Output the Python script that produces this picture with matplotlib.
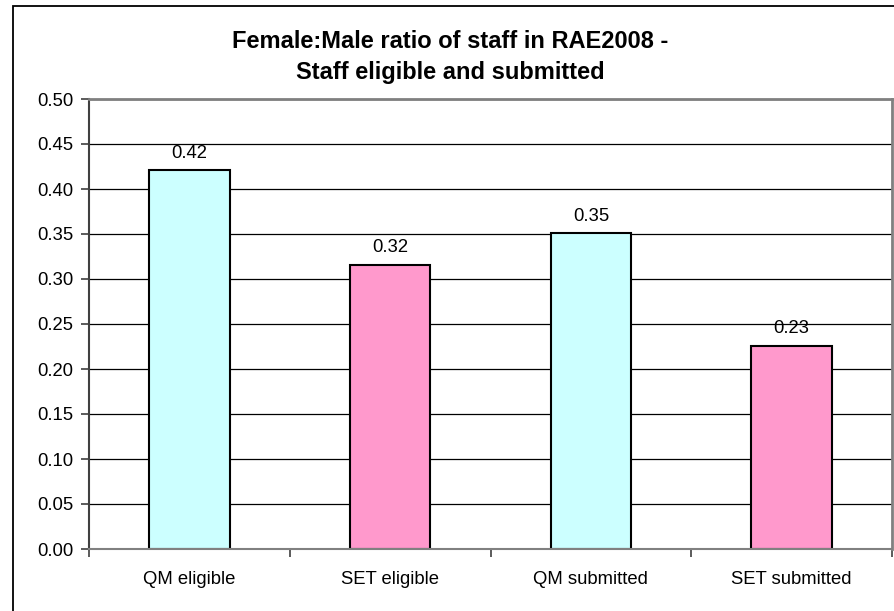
import matplotlib.pyplot as plt
import matplotlib.patches as mpatches
import numpy as np

plt.rcParams['font.family'] = ['Liberation Sans', 'DejaVu Sans']

categories = ['QM eligible', 'SET eligible', 'QM submitted', 'SET submitted']
ratios = [0.421, 0.316, 0.351, 0.226]
labels = ['0.42', '0.32', '0.35', '0.23']
colors = ['#CCFFFF', '#FF99CC', '#CCFFFF', '#FF99CC']
yticks = np.arange(0, 0.51, 0.05)

W, H = 894, 611
fig = plt.figure(figsize=(W / 100, H / 100), dpi=100)
ax = fig.add_axes([89 / W, 1 - 549 / H, (892 - 89) / W, (549 - 99) / H])

# outer chart frame
fig.patches.append(mpatches.Rectangle((13 / W, -0.05), 1.2, 1 - 6 / H + 0.05,
                                      transform=fig.transFigure, fill=False,
                                      edgecolor='black', linewidth=1.3))

x = np.arange(len(categories))
ax.set_axisbelow(True)
ax.yaxis.grid(True, color='black', linewidth=0.9)
bars = ax.bar(x, ratios, width=0.4, color=colors, edgecolor='black', linewidth=1.5)

for xi, v, lab in zip(x, ratios, labels):
    ax.annotate(lab, (xi, v), xytext=(0, 6), textcoords='offset points',
                ha='center', va='bottom', fontsize=13.3)

ax.set_xlim(-0.5, len(categories) - 0.5)
ax.set_ylim(0, 0.5)
ax.set_yticks(yticks)
ax.set_yticklabels(['%.2f' % t for t in yticks], fontsize=13.3)
ax.set_xticks(np.arange(len(categories) + 1) - 0.5)
ax.set_xticklabels([])
ax.set_xticks(x, minor=True)
ax.set_xticklabels(categories, minor=True, fontsize=13.3)
ax.tick_params(axis='x', which='minor', length=0, pad=16)
ax.tick_params(axis='x', which='major', length=6, width=1.2, color='#404040')
ax.tick_params(axis='y', length=6, width=1.2, color='#404040', pad=5)

for side in ['top', 'right']:
    ax.spines[side].set_color('#808080')
    ax.spines[side].set_linewidth(2)
ax.spines['left'].set_color('#404040')
ax.spines['left'].set_linewidth(1.5)
ax.spines['bottom'].set_color('#808080')
ax.spines['bottom'].set_linewidth(1.5)

fig.text(450 / W, 1 - 57 / H, 'Female:Male ratio of staff in RAE2008 -\nStaff eligible and submitted',
         ha='center', va='center', fontsize=17, fontweight='bold', linespacing=1.4)

plt.savefig('out.png', dpi=100)
